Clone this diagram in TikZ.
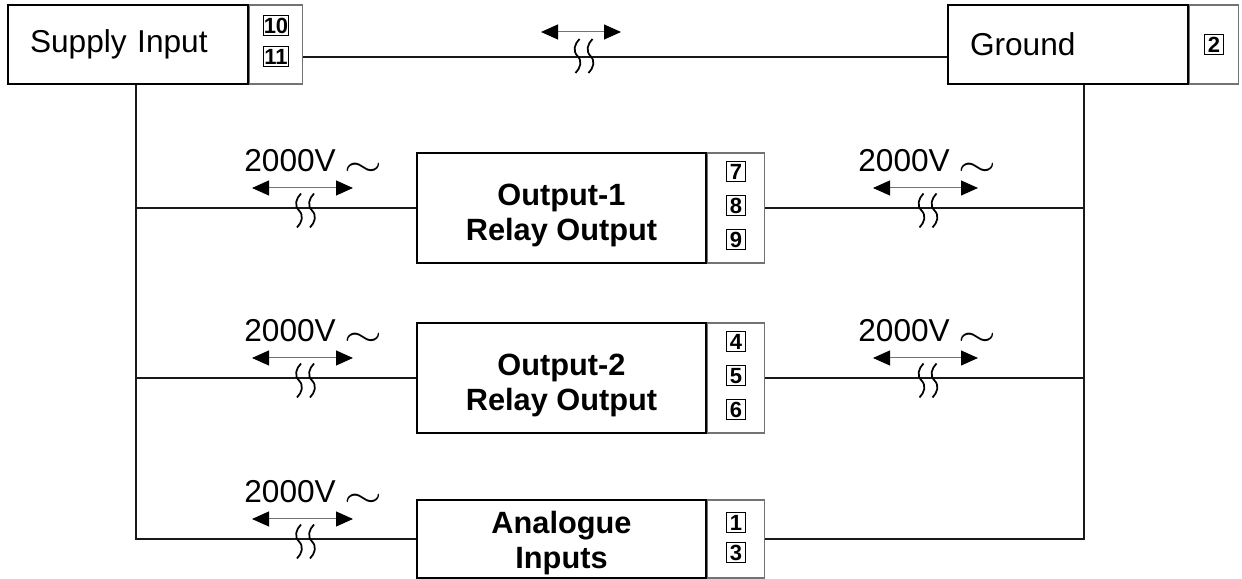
\documentclass[tikz,border=0pt]{standalone}
\usepackage{fontspec}
\setmainfont{Liberation Sans}
\usepackage{tikz}
\usetikzlibrary{arrows.meta}

\begin{document}
\begin{tikzpicture}[
  lbl/.style={font=\fontsize{18}{21.6}\selectfont,inner sep=0pt,anchor=base west},
  headbox/.style={draw=black,line width=0.03cm,minimum height=1.58cm,text width=3.92cm,inner xsep=0.44cm,align=left,font=\fontsize{18}{21.6}\selectfont},
  mainbox/.style={draw=black,line width=0.03cm,minimum height=2.2cm,minimum width=5.78cm,align=center,font=\fontsize{17.5}{20}\selectfont\bfseries},
  termcol/.style={draw=cgray,line width=0.03cm,minimum height=2.2cm,minimum width=1.14cm,anchor=west},
  term/.style={draw=black,line width=0.02cm,minimum height=0.4cm,minimum width=0.37cm,inner sep=0.4pt,font=\fontsize{12.5}{12.5}\selectfont\bfseries},
  bus/.style={line width=0.03cm,color=cline},
  isol/.style={{Triangle[length=0.34cm,width=0.3cm,color=black]}-{Triangle[length=0.34cm,width=0.3cm,color=black]},line width=0.02cm,draw=cgray},
  brk/.pic={\draw[line width=0.035cm] (-0.09,0.34) .. controls (-0.19,0.24) and (-0.23,0.10) .. (-0.13,0) .. controls (-0.03,-0.10) and (-0.07,-0.24) .. (-0.17,-0.34);
            \draw[line width=0.035cm] (0.17,0.34) .. controls (0.07,0.24) and (0.03,0.10) .. (0.13,0) .. controls (0.23,-0.10) and (0.19,-0.24) .. (0.09,-0.34);}
]
\definecolor{cgray}{rgb}{0.45,0.45,0.45}
\definecolor{cline}{rgb}{0.1,0.1,0.1}
\useasboundingbox (0,0) rectangle (24.84,11.58);
%
\node[headbox] (supply) at (2.56,10.69) {Supply Input};
\node[termcol,minimum height=1.58cm,minimum width=1.06cm] (supT) at (supply.east) {};
\node[term] (t10) at ([yshift=0.37cm]supT.center) {10};
\node[term] (t11) at ([yshift=-0.25cm]supT.center) {11};
\node[headbox] (gnd) at (21.36,10.69) {Ground};
\node[termcol,minimum height=1.58cm,minimum width=0.98cm] (gndT) at (gnd.east) {};
\node[term] (t2) at (gndT.center) {2};
%
\node[mainbox] (out1) at (11.23,7.42) {\rule{0pt}{0.73cm}Output-1\\Relay Output};
\node[termcol] (out1T) at (out1.east) {};
\node[term] (t7) at ([yshift=0.72cm]out1T.center) {7};
\node[term] (t8) at ([yshift=0.04cm]out1T.center) {8};
\node[term] (t9) at ([yshift=-0.64cm]out1T.center) {9};
\node[mainbox] (out2) at (11.23,4.02) {\rule{0pt}{0.73cm}Output-2\\Relay Output};
\node[termcol] (out2T) at (out2.east) {};
\node[term] (t4) at ([yshift=0.72cm]out2T.center) {4};
\node[term] (t5) at ([yshift=0.04cm]out2T.center) {5};
\node[term] (t6) at ([yshift=-0.64cm]out2T.center) {6};
\node[mainbox,minimum height=1.56cm,inner ysep=0pt] (ana) at (11.23,0.80) {\rule{0pt}{0.61cm}Analogue\\Inputs};
\node[termcol,minimum height=1.56cm] (anaT) at (ana.east) {};
\node[term] (t1) at ([yshift=0.33cm]anaT.center) {1};
\node[term] (t3) at ([yshift=-0.27cm]anaT.center) {3};
%
\coordinate (lbus) at (2.72,0.80);
\coordinate (rbus) at (21.68,0.80);
\draw[bus] (supT.east |- t11) -- (gnd.west |- t11);
\draw[bus] (supply.south -| lbus) -- (lbus) -- (ana.west);
\draw[bus] (lbus |- out1.west) -- (out1.west);
\draw[bus] (lbus |- out2.west) -- (out2.west);
\draw[bus] (gnd.south -| rbus) -- (rbus) -- (anaT.east);
\draw[bus] (out1T.east) -- (rbus |- out1T.east);
\draw[bus] (out2T.east) -- (rbus |- out2T.east);
%
\draw[isol] (10.82,10.94) -- (12.42,10.94);
\pic at (11.68,10.46) {brk};
%
\node[lbl] (v1l) at (4.88,8.14) {2000V \raisebox{-0.09cm}{\scalebox{1.6}[1.2]{$\sim$}}};
\draw[isol] (5.04,7.82) -- (7.06,7.82);
\pic at (6.11,7.37) {brk};
\node[lbl] (v1r) at (17.16,8.14) {2000V \raisebox{-0.09cm}{\scalebox{1.6}[1.2]{$\sim$}}};
\draw[isol] (17.46,7.82) -- (19.56,7.82);
\pic at (18.56,7.37) {brk};
%
\node[lbl] (v2l) at (4.88,4.74) {2000V \raisebox{-0.09cm}{\scalebox{1.6}[1.2]{$\sim$}}};
\draw[isol] (5.04,4.42) -- (7.06,4.42);
\pic at (6.11,3.97) {brk};
\node[lbl] (v2r) at (17.16,4.74) {2000V \raisebox{-0.09cm}{\scalebox{1.6}[1.2]{$\sim$}}};
\draw[isol] (17.46,4.42) -- (19.56,4.42);
\pic at (18.56,3.97) {brk};
%
\node[lbl] (v3l) at (4.88,1.52) {2000V \raisebox{-0.09cm}{\scalebox{1.6}[1.2]{$\sim$}}};
\draw[isol] (5.04,1.20) -- (7.06,1.20);
\pic at (6.11,0.75) {brk};
%
\end{tikzpicture}
\end{document}
